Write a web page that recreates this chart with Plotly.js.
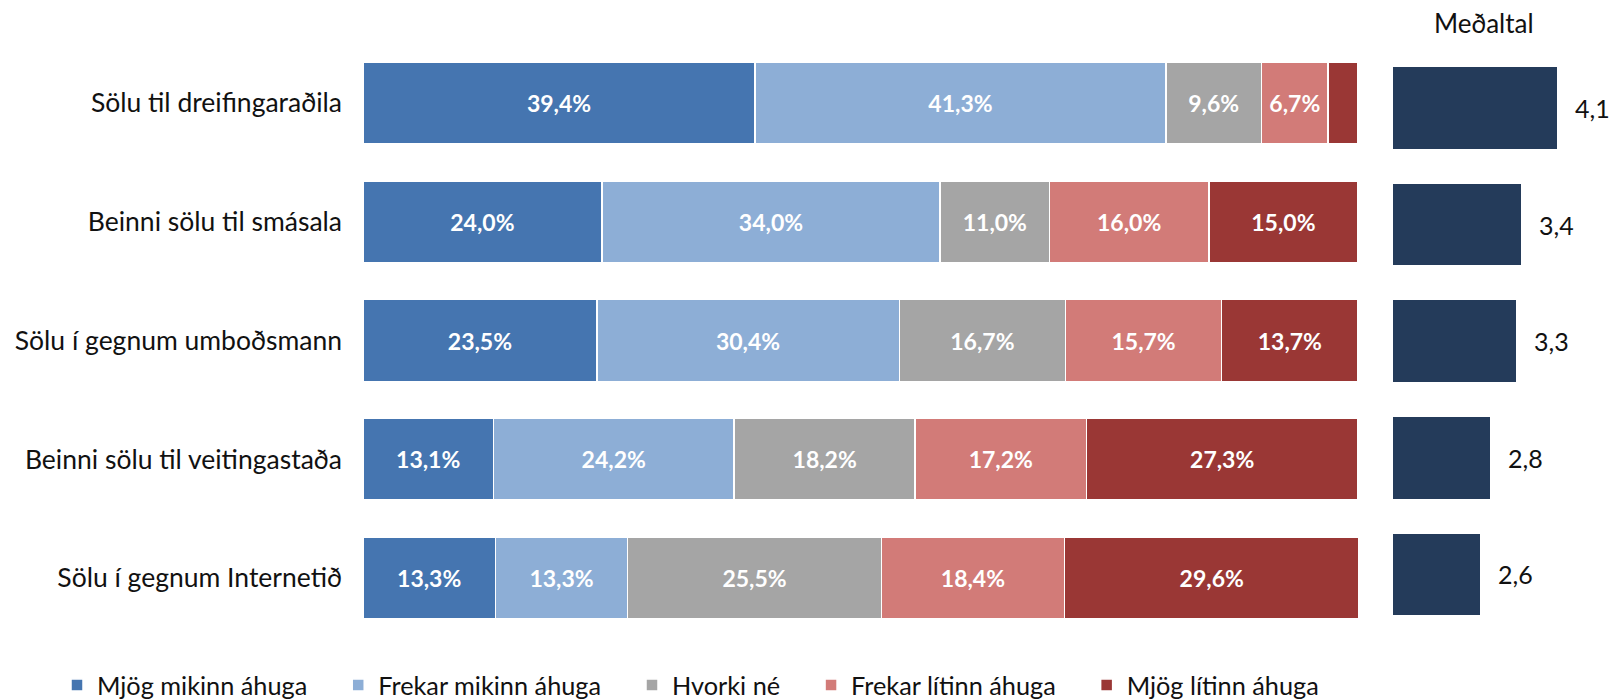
<!DOCTYPE html>
<html><head><meta charset="utf-8">
<script src="https://cdn.plot.ly/plotly-3.0.1.min.js"></script>
<style>html,body{margin:0;padding:0;background:#fff}#chart{width:1616px;height:700px}</style>
</head><body><div id="chart"></div>
<script>
const categories = ["Sölu til dreifingaraðila","Beinni sölu til smásala","Sölu í gegnum umboðsmann","Beinni sölu til veitingastaða","Sölu í gegnum Internetið"];
const seriesNames = ["Mjög mikinn áhuga","Frekar mikinn áhuga","Hvorki né","Frekar lítinn áhuga","Mjög lítinn áhuga"];
const mjogMikinn = [39.4, 24.0, 23.5, 13.1, 13.3];
const frekarMikinn = [41.3, 34.0, 30.4, 24.2, 13.3];
const hvorkiNe = [9.6, 11.0, 16.7, 18.2, 25.5];
const frekarLitinn = [6.7, 16.0, 15.7, 17.2, 18.4];
const mjogLitinn = [3.0, 15.0, 13.7, 27.3, 29.6];
const medaltal = [4.1, 3.4, 3.3, 2.8, 2.6];
const colors = ["#4575b0","#8daed6","#a5a5a5","#d27b78","#9a3735"];
const meanColor = "#243b5a";

const FONT = "Lato, 'Open Sans', sans-serif";
const fmt = v => v.toFixed(1).replace('.', ',');
const seriesVals = [mjogMikinn, frekarMikinn, hvorkiNe, frekarLitinn, mjogLitinn];
const PAD = '\u00a0\u00a0\u00a0\u00a0';

const traces = seriesVals.map((vals, i) => ({
  type: 'bar', orientation: 'h',
  name: seriesNames[i] + PAD,
  x: vals, y: categories,
  xaxis: 'x', yaxis: 'y',
  width: 0.69,
  marker: {color: colors[i], line: {color: '#ffffff', width: 1.5}},
  text: vals.map(v => v >= 5 ? fmt(v) + '%' : ''),
  textposition: 'inside', insidetextanchor: 'middle', textangle: 0,
  textfont: {family: FONT, size: 23, color: '#ffffff', weight: 'bold'},
  hoverinfo: 'name+x'
}));

traces.push({
  type: 'bar', orientation: 'h', name: 'Meðaltal', showlegend: false,
  x: medaltal, y: categories,
  xaxis: 'x2', yaxis: 'y2',
  width: 0.70,
  marker: {color: meanColor},
  hoverinfo: 'x'
});

const annotations = medaltal.map((v, i) => ({
  x: v, y: categories[i], xref: 'x2', yref: 'y2',
  text: fmt(v), showarrow: false, xanchor: 'left', xshift: 16,
  font: {family: FONT, size: 25, color: '#111111'}
}));
annotations.push({
  x: 1484/1616, y: 1 - 23/700, xref: 'paper', yref: 'paper',
  text: 'Meðaltal', showarrow: false, xanchor: 'center', yanchor: 'middle',
  font: {family: FONT, size: 26, color: '#111111'}
});

const layout = {
  width: 1616, height: 700,
  margin: {l: 0, r: 0, t: 0, b: 0, autoexpand: false},
  paper_bgcolor: '#ffffff', plot_bgcolor: '#ffffff',
  barmode: 'stack',
  font: {family: FONT, color: '#111111'},
  xaxis: {domain: [363/1616, 1358/1616], range: [0, 100], visible: false, fixedrange: true},
  yaxis: {domain: [62.6/700, 656.4/700], type: 'category', categoryorder: 'array', categoryarray: categories,
          autorange: 'reversed', showgrid: false, zeroline: false, showline: false, ticks: '',
          ticklabelstandoff: 20, tickfont: {family: FONT, size: 26.5, color: '#111111'}},
  xaxis2: {domain: [1393/1616, 1], range: [0.9, 0.9 + 223/51.3], visible: false, anchor: 'y2'},
  yaxis2: {domain: [67.2/700, 650.3/700], type: 'category', categoryorder: 'array', categoryarray: categories,
           autorange: 'reversed', visible: false, anchor: 'x2'},
  legend: {orientation: 'h', x: 57/1616, y: 15/700, xanchor: 'left', yanchor: 'middle',
           font: {family: FONT, size: 25.3, color: '#111111'}, itemwidth: 30, traceorder: 'normal'},
  annotations: annotations,
  showlegend: true
};

Plotly.newPlot('chart', traces, layout, {displayModeBar: false, staticPlot: true});
</script>
</body></html>
